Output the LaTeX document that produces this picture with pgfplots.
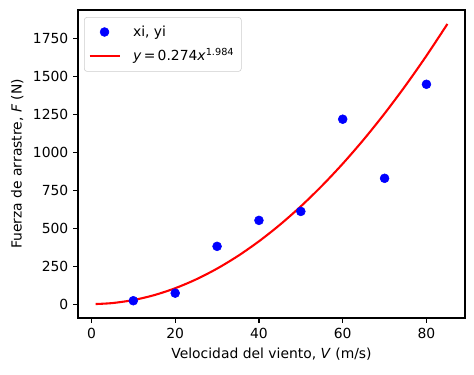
\documentclass[border=0pt]{standalone}
\usepackage{fontspec}
\setmainfont{DejaVu Sans}
\usepackage{pgfplots}
\pgfplotsset{compat=1.18}
\usetikzlibrary{calc}
\begin{document}
\fontsize{10pt}{12pt}\selectfont
\begin{tikzpicture}
\begin{axis}[
  scale only axis,
  width=278.6pt, height=221.8pt,
  xmin=-3.2, xmax=89.2, ymin=-91.9, ymax=1936,
  xtick={0,20,40,60,80},
  ytick={0,250,500,750,1000,1250,1500,1750},
  /pgf/number format/assume math mode=true,
  /pgf/number format/1000 sep={},
  tick align=outside, tick pos=left,
  major tick length=3.5pt,
  every tick/.style={black, line width=0.8pt},
  axis line style={line width=0.8pt},
  tick label style={font=\fontsize{10pt}{12pt}\selectfont},
  label style={font=\fontsize{10pt}{12pt}\selectfont},
  xlabel={Velocidad del viento, \textit{V} (m/s)},
  ylabel={Fuerza de arrastre, \textit{F} (N)},
  legend style={at={(0.0155,0.977)}, anchor=north west, draw=black!20, rounded corners=2pt, font=\fontsize{10pt}{12pt}\selectfont, inner xsep=3pt, inner ysep=4pt, row sep=3.5pt, column sep=2pt},
  legend cell align=left,
]
\addplot[only marks, mark=*, mark size=3.2pt, color=blue,
  legend image code/.code={\path[draw=none,fill=none] (0pt,0pt) -- (21.6pt,0pt); \draw[only marks] plot coordinates {(10.8pt,0pt)};}] coordinates {
  (10,22) (20,72) (30,380) (40,551) (50,610) (60,1217) (70,828) (80,1447)
};
\addlegendentry{\hspace{5pt}xi, yi}
\addplot[color=red, line width=1.5pt, smooth,
  legend image code/.code={\draw (0pt,0pt) -- (21.6pt,0pt);}] coordinates {
  (1,0.274) (5,6.676) (10,26.41) (15,59.04) (20,104.47) (25,162.65) (30,233.54)
  (35,317.09) (40,413.27) (45,522.06) (50,643.44) (55,777.38) (60,923.85)
  (65,1082.85) (70,1254.36) (75,1438.37) (80,1634.86) (85,1843.83)
};
\addlegendentry{\hspace{5pt}\textit{y}\,=\,0.274\textit{x}\textsuperscript{1.984}}
\end{axis}
\path[use as bounding box] ($(current axis.south west)+(-56.2pt,-40.3pt)$) rectangle ($(current axis.north east)+(6.5pt,7.2pt)$);
\end{tikzpicture}
\end{document}
